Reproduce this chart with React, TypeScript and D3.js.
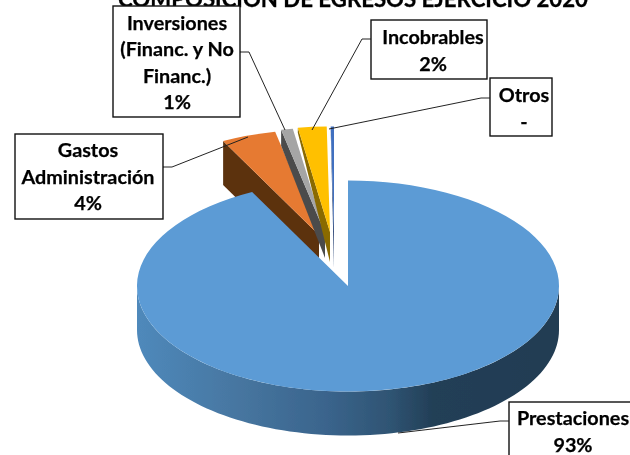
import React from "react";
import * as d3 from "d3";

const categories = ["Prestaciones", "Gastos Administración", "Inversiones (Financ. y No Financ.)", "Incobrables", "Otros"];
const shares = [93, 4.2, 0.9, 2.2, 0.25];
const topColors = ["#5b9bd5", "#e67a30", "#a5a5a5", "#ffc000", "#3f6fc0"];
const wallColors = ["#2f5f8a", "#5c3011", "#4c4c4c", "#8a6a05", "#1f3a6e"];
const apexX = [348, 319, 325, 330, 334];
const apexY = [286, 235, 233, 232, 232];
const outerWall = [44, 44, 16, 5, 3];
const apexWall = [44, 44, 25, 30, 36];
const drawOrder = [1, 2, 3, 4, 0];
const title = "COMPOSICIÓN DE EGRESOS EJERCICIO 2020";

const labelTexts = [
  ["Prestaciones", "93%"],
  ["Gastos", "Administración", "4%"],
  ["Inversiones", "(Financ. y No", "Financ.)", "1%"],
  ["Incobrables", "2%"],
  ["Otros", "-"],
];
const boxes = [
  { x: 509, y: 402, w: 130, h: 70, lineY: 425, step: 27, cx: 573 },
  { x: 15, y: 134, w: 148, h: 85, lineY: 157, step: 26.5, cx: 88 },
  { x: 113, y: 6, w: 127, h: 111, lineY: 30, step: 26.4, cx: 177 },
  { x: 371, y: 20, w: 116, h: 59, lineY: 44, step: 26.5, cx: 433 },
  { x: 490, y: 78, w: 62, h: 58, lineY: 102, step: 27, cx: 524 },
];
const leaders = [
  [[509, 421], [500, 421], [398, 433]],
  [[163, 167], [172, 167], [248, 137]],
  [[240, 52], [249, 52], [285, 130]],
  [[371, 39], [362, 39], [312, 130]],
  [[490, 98], [481, 98], [329, 129]],
];

const R = 211;
const TILT = 0.5;
const DEPTH = 44;
const FONT = "Lato, 'Open Sans', sans-serif";

export default function App() {
  const pie = d3.pie<number>().sort(null).value((d) => d)(shares);
  const arc = d3.arc<d3.PieArcDatum<number>>().innerRadius(0).outerRadius(R);
  const line = d3.line();
  const cx = apexX[0];
  const cy = apexY[0];

  const rimAngles = d3.range(Math.PI / 2, (3 * Math.PI) / 2 + 0.001, Math.PI / 90);
  const rim = rimAngles.map((a) => [cx + R * Math.sin(a), cy - R * TILT * Math.cos(a)] as [number, number]);
  const wallPts = [...rim, ...rim.slice().reverse().map(([x, y]) => [x, y + DEPTH] as [number, number])];

  const cutFace = (i: number) => {
    const a = pie[i].startAngle;
    const ax = apexX[i];
    const ay = apexY[i];
    const ox = ax + R * Math.sin(a);
    const oy = ay - R * TILT * Math.cos(a);
    return line([[ax, ay], [ox, oy], [ox, oy + outerWall[i]], [ax, ay + apexWall[i]]]) + "Z";
  };

  return (
    <svg width={630} height={455} style={{ position: "absolute", left: 0, top: 0, background: "#fff" }} fontFamily={FONT}>
      <defs>
        <linearGradient id="rimGrad" x1="137" x2="559" y1="0" y2="0" gradientUnits="userSpaceOnUse">
          <stop offset="0" stopColor="#4f89bb" />
          <stop offset="0.25" stopColor="#46759f" />
          <stop offset="0.45" stopColor="#3a648c" />
          <stop offset="0.6" stopColor="#2f5473" />
          <stop offset="0.7" stopColor="#233f57" />
          <stop offset="1" stopColor="#213c52" />
        </linearGradient>
        <filter id="soft" x="-5%" y="-5%" width="110%" height="110%">
          <feGaussianBlur stdDeviation="0.4" />
        </filter>
      </defs>
      <g filter="url(#soft)">
        <text x={353} y={6.5} textAnchor="middle" fontSize={22.2} fontWeight={700} fill="#000" stroke="#000" strokeWidth={0.3}>{title}</text>
        {drawOrder.filter((i) => i !== 0).map((i) => (
          <g key={categories[i]}>
            <path d={cutFace(i)} fill={wallColors[i]} />
            <path
              d={arc(pie[i]) ?? ""}
              transform={`translate(${apexX[i]},${apexY[i]}) scale(1,${TILT})`}
              fill={topColors[i]}
            />
          </g>
        ))}
        <path d={(line(wallPts) ?? "") + "Z"} fill="url(#rimGrad)" />
        <path d={arc(pie[0]) ?? ""} transform={`translate(${cx},${cy}) scale(1,${TILT})`} fill={topColors[0]} />
        {leaders.map((pts, i) => (
          <path key={i} d={line(pts as [number, number][]) ?? ""} fill="none" stroke="#222" strokeWidth={1} />
        ))}
        {boxes.map((b, i) => (
          <g key={i}>
            <rect x={b.x} y={b.y} width={b.w} height={b.h} fill="#fff" stroke="#111" strokeWidth={1.4} />
            {labelTexts[i].map((t, j) => (
              <text key={j} x={b.cx} y={b.lineY + j * b.step} textAnchor="middle" fontSize={19.8} fontWeight={700} fill="#000" stroke="#000" strokeWidth={0.25}>{t}</text>
            ))}
          </g>
        ))}
      </g>
    </svg>
  );
}
